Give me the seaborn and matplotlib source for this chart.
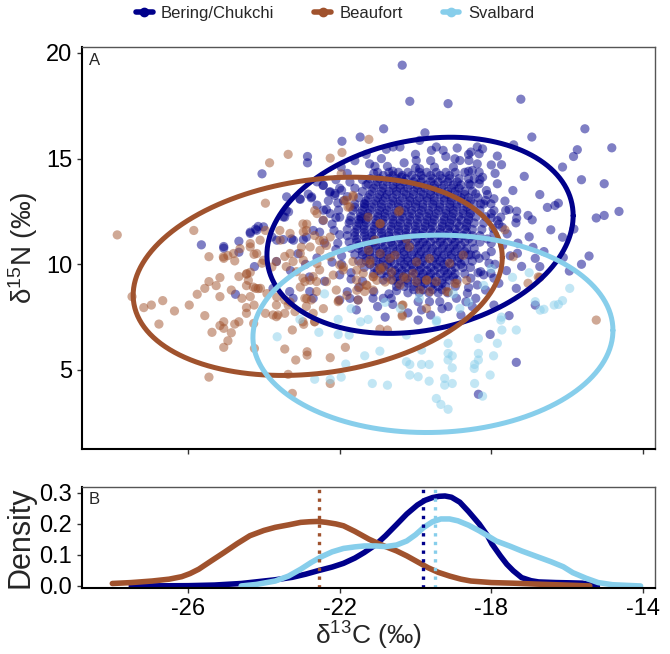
import numpy as np
import pandas as pd
import matplotlib
matplotlib.use("Agg")
import matplotlib.pyplot as plt
import seaborn as sns
from matplotlib.lines import Line2D

groups = ["Bering/Chukchi", "Beaufort", "Svalbard"]
colors = {"Bering/Chukchi": "#00008B", "Beaufort": "#A0522D", "Svalbard": "#87CEEB"}

# scattered Bering/Chukchi points (d13C, d15N)
bering_pts = [
    (-24.05, 14.28), (-25.65, 10.92), (-25.06, 10.84), (-24.66, 11.09), (-24.36, 11.52), (-24.22, 11.67),
    (-24.15, 11.79), (-20.35, 19.42), (-20.15, 17.71), (-19.14, 17.60), (-20.84, 16.41), (-21.46, 16.02),
    (-21.94, 15.82), (-19.75, 16.22), (-22.85, 15.10), (-22.85, 14.80), (-21.96, 14.60), (-21.21, 14.75),
    (-21.07, 14.63), (-20.74, 14.63), (-20.77, 15.44), (-20.59, 15.55), (-20.41, 15.55), (-17.22, 17.81),
    (-15.53, 16.41), (-16.93, 16.02), (-14.82, 15.51), (-17.41, 15.65), (-15.73, 15.42), (-15.83, 15.10),
    (-17.84, 15.12), (-17.73, 14.71), (-16.12, 14.60), (-17.13, 14.16), (-15.62, 14.00), (-15.02, 13.81),
    (-17.84, 13.81), (-17.43, 13.49), (-16.72, 13.30), (-16.23, 12.89), (-16.32, 12.78), (-16.52, 12.69),
    (-17.03, 12.31), (-16.92, 12.10), (-14.63, 12.50), (-15.02, 12.31), (-15.23, 12.19), (-16.43, 11.63),
    (-16.12, 11.28), (-15.82, 11.67), (-17.64, 12.99), (-17.62, 12.55), (-17.53, 12.59), (-17.33, 12.51),
    (-17.33, 12.18), (-17.35, 11.96), (-18.13, 13.49), (-17.93, 13.10), (-18.15, 13.02), (-24.75, 8.58),
    (-24.25, 9.89), (-25.06, 10.76), (-24.66, 10.57), (-16.84, 10.28), (-16.72, 9.89), (-16.61, 10.60),
    (-15.42, 10.39), (-15.62, 10.00), (-15.94, 9.68), (-16.10, 10.32), (-16.84, 8.07), (-17.34, 8.86),
    (-17.93, 8.07), (-17.53, 7.57), (-18.03, 6.68), (-17.34, 5.36), (-18.34, 3.85),
    (-23.40, 13.19), (-23.49, 12.24), (-23.35, 12.48), (-23.04, 13.07), (-22.83, 13.32), (-22.74, 13.19),
    (-22.43, 13.74), (-22.25, 13.43), (-22.12, 13.35), (-22.43, 12.56), (-22.25, 12.40), (-22.03, 12.56),
    (-24.36, 11.46), (-24.19, 11.61), (-24.01, 11.77), (-23.66, 11.14), (-23.79, 11.29), (-23.49, 11.17),
    (-23.22, 11.14), (-22.96, 11.17), (-23.05, 13.10), (-22.75, 13.14), (-23.45, 12.23), (-23.41, 12.54),
    (-22.35, 12.59), (-22.44, 12.07), (-22.00, 12.23), (-21.73, 12.07), (-21.43, 12.15), (-21.60, 12.70),
    (-21.34, 12.86), (-23.27, 11.20), (-22.88, 11.28), (-22.53, 11.52), (-22.27, 13.41), (-22.13, 13.26),
    (-22.44, 13.73), (-21.73, 13.89), (-21.25, 13.81), (-20.37, 14.12), (-19.98, 14.91), (-19.89, 14.52),
    (-19.58, 15.39), (-19.45, 15.55), (-19.27, 15.39), (-18.96, 14.99), (-18.83, 14.91), (-19.89, 15.86),
    (-18.37, 15.55), (-18.23, 15.46), (-18.54, 15.31), (-18.32, 15.23), (-18.59, 14.91), (-18.37, 14.75),
    (-18.50, 14.44), (-18.32, 14.36), (-18.45, 14.04), (-18.23, 14.12), (-18.59, 13.81), (-18.32, 13.81),
    (-18.41, 13.33), (-18.28, 12.86), (-18.01, 12.86), (-17.93, 12.54), (-17.75, 12.23), (-17.84, 12.07),
    (-17.71, 11.75), (-17.58, 11.44), (-17.93, 11.44), (-18.54, 10.44), (-18.32, 10.28), (-18.06, 10.05),
    (-18.01, 9.57), (-18.28, 9.65), (-18.54, 9.34), (-18.37, 9.02), (-18.15, 8.78), (-18.63, 8.63),
    (-18.41, 8.39), (-18.67, 8.23), (-17.93, 9.34), (-17.31, 10.52), (-21.56, 7.84), (-21.12, 8.39),
    (-20.85, 8.39), (-20.64, 8.39), (-19.93, 8.23), (-19.93, 7.36), (-19.84, 7.84), (-19.63, 8.23),
    (-19.36, 8.23), (-19.14, 8.00), (-18.92, 8.39), (-22.00, 8.31), (-21.73, 8.39), (-21.52, 8.31),
    (-22.79, 8.71), (-22.70, 8.39), (-23.23, 8.39), (-23.32, 8.71), (-23.76, 8.86), (-23.67, 10.13),
    (-21.6, 14.9), (-21.3, 15.2), (-20.9, 15.0), (-20.3, 14.8), (-20.0, 15.2), (-19.6, 14.9), (-19.2, 15.1),
    (-18.9, 15.5), (-18.6, 15.2), (-18.0, 14.7), (-17.9, 14.3), (-21.8, 14.3), (-22.1, 14.0),
    (-22.6, 13.9), (-22.3, 13.0), (-22.0, 13.6), (-21.9, 13.0), (-22.6, 12.8), (-22.2, 11.9), (-22.0, 11.4),
    (-22.7, 11.6), (-22.4, 11.0), (-22.1, 10.7), (-22.6, 10.3), (-22.2, 10.1), (-21.95, 10.4), (-22.9, 10.0),
    (-23.1, 10.5), (-23.3, 9.7), (-22.8, 9.4), (-22.4, 9.2), (-22.0, 9.5), (-21.7, 9.3), (-21.5, 8.9),
    (-21.8, 8.7), (-18.0, 12.4), (-17.8, 11.9), (-18.1, 11.2), (-17.7, 10.9), (-18.0, 10.6), (-17.5, 10.4),
    (-17.9, 10.0), (-17.6, 9.7), (-17.2, 9.9), (-17.3, 11.0), (-17.0, 11.3), (-16.9, 10.8), (-18.2, 9.5),
    (-17.8, 9.1), (-21.0, 8.0), (-20.6, 8.1), (-20.2, 7.7), (-19.6, 7.6), (-19.3, 7.9), (-18.8, 7.6),
    (-18.5, 8.0), (-20.8, 7.5),
    (-21.95, 13.5), (-22.05, 12.9), (-22.1, 12.2), (-22.15, 11.6), (-22.05, 11.0), (-21.95, 10.0),
    (-21.7, 9.6), (-21.4, 9.2), (-21.1, 8.7), (-20.7, 8.6), (-20.5, 8.75), (-18.6, 8.9), (-18.35, 9.6),
    (-18.15, 10.4), (-18.0, 11.0), (-17.95, 11.7), (-18.0, 12.2), (-18.1, 13.3), (-18.3, 14.0),
    (-18.6, 14.4), (-19.0, 14.6), (-19.5, 14.6), (-20.0, 14.55), (-20.6, 14.4), (-21.1, 14.3),
    (-21.4, 14.0), (-21.6, 13.6), (-21.8, 13.2),
]

# dense Bering/Chukchi core, one row of d13C values per d15N level
bering_core = [
    (14.35, [-21.0, -20.7, -20.45, -20.2, -19.9, -19.7, -19.45, -19.2, -18.95, -18.7]),
    (14.2, [-20.85, -20.6, -20.35, -20.1, -19.85, -19.6, -19.35, -19.1]),
    (14.05, [-21.2, -20.95, -20.7, -20.5, -20.25, -20.0, -19.8, -19.55, -19.3, -19.1, -18.85, -18.6]),
    (13.9, [-21.0, -20.75, -20.5, -20.3, -20.05, -19.85, -19.6, -19.4, -19.15, -18.9]),
    (13.75, [-21.3, -21.05, -20.85, -20.6, -20.4, -20.15, -19.95, -19.7, -19.5, -19.25, -19.0, -18.8, -18.55]),
    (13.6, [-21.1, -20.85, -20.6, -20.4, -20.2, -19.95, -19.75, -19.5, -19.3, -19.05, -18.85]),
    (13.45, [-21.4, -21.15, -20.9, -20.7, -20.5, -20.3, -20.05, -19.85, -19.6, -19.4, -19.15, -18.95, -18.7, -18.5]),
    (13.3, [-21.2, -20.95, -20.75, -20.5, -20.25, -20.05, -19.8, -19.6, -19.35, -19.15, -18.9, -18.7]),
    (13.15, [-21.5, -21.25, -21.0, -20.8, -20.6, -20.35, -20.15, -19.9, -19.7, -19.5, -19.25, -19.05, -18.8, -18.6, -18.35]),
    (13.0, [-21.3, -21.05, -20.85, -20.6, -20.4, -20.15, -19.95, -19.7, -19.5, -19.25, -19.05, -18.8, -18.55]),
    (12.85, [-21.6, -21.35, -21.1, -20.9, -20.65, -20.45, -20.2, -20.0, -19.8, -19.55, -19.35, -19.1, -18.9, -18.65, -18.45, -18.2]),
    (12.7, [-21.35, -21.15, -20.9, -20.7, -20.45, -20.25, -20.0, -19.8, -19.55, -19.35, -19.1, -18.9, -18.65]),
    (12.55, [-21.65, -21.4, -21.2, -20.95, -20.75, -20.5, -20.3, -20.1, -19.85, -19.65, -19.4, -19.2, -19.0, -18.75, -18.55, -18.3]),
    (12.4, [-21.45, -21.25, -21.0, -20.8, -20.55, -20.35, -20.1, -19.9, -19.65, -19.45, -19.2, -19.0, -18.75, -18.55]),
    (12.25, [-21.7, -21.45, -21.25, -21.0, -20.8, -20.6, -20.35, -20.15, -19.9, -19.7, -19.5, -19.25, -19.05, -18.85, -18.6, -18.4, -18.15]),
    (12.1, [-21.5, -21.3, -21.05, -20.85, -20.6, -20.4, -20.15, -19.95, -19.7, -19.5, -19.25, -19.05, -18.8, -18.6]),
    (11.95, [-21.75, -21.5, -21.3, -21.05, -20.85, -20.6, -20.4, -20.2, -19.95, -19.75, -19.55, -19.3, -19.1, -18.9, -18.65, -18.45, -18.2]),
    (11.8, [-21.55, -21.35, -21.1, -20.9, -20.65, -20.45, -20.2, -20.0, -19.75, -19.55, -19.3, -19.1, -18.85, -18.65]),
    (11.65, [-21.8, -21.55, -21.35, -21.1, -20.9, -20.65, -20.45, -20.25, -20.0, -19.8, -19.6, -19.35, -19.15, -18.95, -18.7, -18.5, -18.25]),
    (11.5, [-21.6, -21.35, -21.15, -20.9, -20.7, -20.45, -20.25, -20.0, -19.8, -19.55, -19.35, -19.1, -18.9, -18.65]),
    (11.35, [-21.8, -21.6, -21.35, -21.15, -20.9, -20.7, -20.5, -20.25, -20.05, -19.85, -19.6, -19.4, -19.2, -18.95, -18.75, -18.5, -18.3]),
    (11.2, [-21.55, -21.3, -21.1, -20.85, -20.65, -20.4, -20.2, -19.95, -19.75, -19.5, -19.3, -19.05, -18.85, -18.6]),
    (11.05, [-21.75, -21.55, -21.3, -21.1, -20.9, -20.65, -20.45, -20.25, -20.0, -19.8, -19.6, -19.35, -19.15, -18.95, -18.7, -18.5, -18.3]),
    (10.9, [-21.5, -21.25, -21.05, -20.8, -20.6, -20.35, -20.15, -19.9, -19.7, -19.45, -19.25, -19.0, -18.8]),
    (10.75, [-21.7, -21.5, -21.25, -21.05, -20.85, -20.6, -20.4, -20.2, -19.95, -19.75, -19.55, -19.3, -19.1, -18.9, -18.65, -18.45]),
    (10.6, [-21.4, -21.2, -20.95, -20.75, -20.5, -20.3, -20.05, -19.85, -19.6, -19.4, -19.15, -18.95, -18.7]),
    (10.45, [-21.6, -21.4, -21.2, -20.95, -20.75, -20.55, -20.3, -20.1, -19.9, -19.7, -19.45, -19.25, -19.05, -18.8, -18.6, -18.4]),
    (10.3, [-21.3, -21.1, -20.85, -20.65, -20.4, -20.2, -19.95, -19.75, -19.5, -19.3, -19.05, -18.85]),
    (10.15, [-21.5, -21.3, -21.05, -20.85, -20.65, -20.4, -20.2, -20.0, -19.8, -19.55, -19.35, -19.15, -18.9, -18.7, -18.5]),
    (10.0, [-21.2, -20.95, -20.75, -20.55, -20.3, -20.1, -19.9, -19.7, -19.45, -19.25, -19.05, -18.8]),
    (9.85, [-21.35, -21.1, -20.9, -20.7, -20.45, -20.25, -20.05, -19.85, -19.6, -19.4, -19.2, -18.95, -18.75, -18.55]),
    (9.7, [-21.0, -20.8, -20.55, -20.35, -20.1, -19.9, -19.7, -19.5, -19.25, -19.05]),
    (9.55, [-21.1, -20.9, -20.65, -20.45, -20.25, -20.0, -19.8, -19.6, -19.35, -19.15, -18.95, -18.7]),
    (9.4, [-20.75, -20.5, -20.3, -20.1, -19.85, -19.65, -19.45, -19.2, -19.0]),
    (9.25, [-20.85, -20.6, -20.4, -20.2, -19.95, -19.75, -19.55, -19.3, -19.1, -18.9]),
    (9.1, [-20.45, -20.2, -19.95, -19.75, -19.5, -19.3]),
    (8.95, [-20.5, -20.3, -20.05, -19.85, -19.6, -19.4, -19.2, -18.95]),
    (8.8, [-20.05, -19.8, -19.55, -19.3]),
    (8.65, [-20.2, -19.9, -19.65, -19.4, -19.15]),
]

beaufort_pts = [
    (-23.85, 14.80), (-23.96, 12.89), (-27.87, 11.39), (-25.85, 11.60), (-23.96, 11.60), (-21.23, 15.91),
    (-23.36, 15.20), (-22.25, 15.02), (-21.94, 15.29), (-21.96, 14.28), (-17.64, 11.63), (-25.45, 10.36),
    (-27.48, 8.47), (-27.17, 7.95), (-26.97, 8.07), (-26.67, 8.28), (-26.36, 7.79), (-26.77, 7.17),
    (-25.97, 8.07), (-25.76, 8.58), (-25.56, 8.86), (-25.45, 9.18), (-25.26, 8.99), (-25.16, 9.37),
    (-25.56, 7.57), (-25.16, 8.47), (-25.37, 6.78), (-25.16, 7.10), (-25.06, 7.28), (-25.06, 6.97),
    (-24.86, 6.76), (-24.95, 6.38), (-25.06, 6.07), (-25.45, 4.66), (-24.77, 7.17), (-24.66, 7.28),
    (-24.86, 8.78), (-24.58, 8.39), (-24.36, 8.47), (-24.46, 7.95), (-24.46, 7.68), (-24.26, 8.07),
    (-24.66, 9.42), (-24.46, 9.53), (-24.36, 9.62), (-24.46, 8.99), (-25.06, 10.28), (-24.95, 10.41),
    (-24.77, 10.16), (-24.26, 10.47), (-24.05, 10.05), (-24.22, 8.86), (-24.09, 8.86), (-23.96, 7.68),
    (-24.27, 7.20), (-24.25, 6.02), (-23.45, 5.99), (-23.16, 5.47), (-22.86, 5.70), (-22.86, 5.86),
    (-22.25, 5.58), (-21.85, 6.07), (-22.25, 4.36), (-23.25, 3.89), (-23.36, 4.79), (-23.25, 6.89),
    (-20.94, 6.93), (-20.74, 6.89), (-20.35, 7.60), (-23.76, 7.60), (-23.45, 7.68), (-23.67, 7.52),
    (-22.95, 7.16), (-22.66, 7.28), (-17.03, 9.10), (-16.72, 9.38), (-17.42, 10.36), (-15.23, 7.36),
    (-22.87, 11.90), (-22.96, 11.53), (-23.31, 11.46), (-23.57, 11.14), (-22.60, 12.40), (-22.43, 12.09),
    (-22.43, 11.14), (-22.25, 11.29), (-22.78, 10.82), (-22.52, 10.66), (-23.04, 10.51), (-21.82, 13.03),
    (-21.73, 12.72), (-21.64, 13.19), (-21.24, 10.66), (-21.07, 11.14), (-20.93, 10.51), (-25.07, 10.35),
    (-24.80, 10.51), (-24.63, 10.74), (-24.36, 10.82), (-24.10, 11.14), (-22.66, 12.54), (-21.87, 13.02),
    (-21.65, 13.26), (-21.78, 12.70), (-22.97, 11.91), (-22.88, 11.60), (-22.66, 11.36), (-23.58, 11.60),
    (-23.01, 10.81), (-22.35, 10.89), (-22.53, 11.12), (-20.42, 12.54), (-21.25, 12.23), (-20.94, 11.91),
    (-20.24, 11.20), (-20.45, 12.48), (-20.93, 11.93), (-20.16, 10.82), (-20.93, 9.72), (-20.63, 9.64),
    (-20.54, 10.43), (-20.32, 9.40), (-19.97, 10.11), (-19.70, 9.24), (-19.63, 10.27), (-19.88, 8.77),
    (-18.74, 10.43), (-19.13, 8.69), (-18.91, 9.09), (-18.65, 9.24), (-20.35, 8.06), (-20.35, 7.54),
    (-21.20, 10.03), (-21.11, 9.40), (-20.80, 9.16), (-16.76, 9.40),
    (-23.67, 10.13), (-23.45, 10.37), (-23.23, 10.13), (-23.41, 9.89), (-23.14, 9.65), (-22.97, 9.34),
    (-22.92, 9.18), (-22.70, 9.42), (-22.53, 9.73), (-22.61, 9.18), (-22.35, 9.18), (-22.17, 9.49),
    (-22.00, 9.97), (-21.91, 9.73), (-21.65, 10.13), (-21.43, 10.05), (-21.38, 9.57), (-21.56, 9.26),
    (-21.30, 9.02), (-21.12, 9.42), (-21.12, 8.78), (-20.94, 9.81), (-20.68, 10.28), (-20.64, 9.26),
    (-20.41, 9.02), (-20.24, 9.34), (-20.06, 9.57), (-19.98, 9.18), (-19.71, 9.26), (-19.62, 8.71),
    (-19.45, 9.18), (-19.18, 8.71), (-22.61, 8.71), (-22.92, 8.39), (-22.75, 8.31), (-22.04, 8.23),
    (-22.09, 8.78), (-23.67, 8.07), (-23.45, 8.31), (-23.63, 7.60), (-23.36, 8.07), (-23.18, 7.76),
    (-22.88, 8.00), (-22.70, 7.68), (-22.97, 7.28), (-22.66, 7.28), (-21.47, 8.94), (-21.34, 8.71),
    (-21.51, 8.31), (-20.33, 8.07), (-19.71, 7.91), (-18.96, 9.10), (-19.10, 10.05),
    (-24.36, 10.98), (-24.19, 10.51), (-24.01, 10.19), (-23.79, 9.87), (-24.45, 9.56), (-24.41, 9.24),
    (-24.28, 8.92), (-24.15, 8.85), (-23.92, 8.61), (-23.66, 8.45), (-23.31, 8.21), (-22.87, 8.37),
    (-22.43, 7.90), (-22.03, 8.29), (-21.81, 8.53), (-21.55, 8.77), (-21.28, 9.00), (-21.02, 9.24),
    (-23.04, 8.92), (-22.78, 9.24), (-23.31, 10.51), (-22.96, 10.19), (-22.60, 10.03), (-22.25, 10.35),
    (-21.90, 9.87), (-21.55, 9.72), (-21.20, 10.19), (-20.85, 9.87),
]

svalbard_pts = [
    (-23.65, 6.57), (-23.05, 7.39), (-22.55, 6.78), (-22.04, 7.39), (-22.04, 6.68), (-21.75, 6.65),
    (-21.45, 7.28), (-21.25, 7.39), (-21.34, 5.67), (-21.84, 5.28), (-22.66, 4.56), (-21.96, 4.66),
    (-22.25, 4.55), (-21.14, 4.36), (-20.74, 4.28), (-20.94, 5.89), (-20.24, 6.65), (-19.84, 5.94),
    (-20.24, 5.39), (-20.15, 5.26), (-19.84, 5.26), (-19.64, 5.26), (-20.15, 4.76), (-19.93, 4.68),
    (-19.64, 4.47), (-19.45, 7.28), (-19.14, 6.26), (-19.14, 5.78), (-19.03, 5.67), (-19.14, 5.47),
    (-19.03, 5.10), (-19.23, 4.60), (-19.03, 4.36), (-19.23, 4.28), (-19.45, 3.65), (-19.33, 3.37),
    (-19.14, 3.14), (-18.83, 7.91), (-17.44, 9.38), (-15.93, 8.86), (-16.12, 8.28), (-16.23, 8.10),
    (-16.34, 8.07), (-16.61, 7.87), (-16.71, 7.83), (-16.84, 8.23), (-17.75, 7.36), (-17.72, 6.89),
    (-17.34, 6.89), (-18.34, 6.49), (-17.84, 6.26), (-18.34, 5.78), (-18.34, 5.47), (-17.94, 5.67),
    (-18.44, 5.26), (-18.45, 5.07), (-18.03, 4.76), (-18.44, 4.36), (-18.23, 3.76), (-17.73, 7.50),
    (-19.44, 7.35), (-20.4, 7.9), (-19.9, 8.4), (-19.0, 8.6), (-18.6, 8.2), (-18.2, 9.0), (-20.8, 8.2),
    (-21.7, 7.9), (-22.4, 8.6), (-18.0, 9.8), (-17.0, 9.6),
]

# 95% ellipses: centre d13C, centre d15N, half width, half height, correlation
ellipses = {
    "Bering/Chukchi": (-19.88, 11.37, 4.04, 4.64, 0.20),
    "Beaufort": (-22.58, 9.43, 4.87, 4.69, 0.19),
    "Svalbard": (-19.54, 6.71, 4.75, 4.67, 0.035),
}

# d13C density curves
bering_dx = [-27.5, -26.0, -25.3, -24.6, -24.15, -23.7, -23.25, -22.9, -22.58, -22.2, -21.9, -21.6, -21.35,
             -21.05, -20.79, -20.5, -20.23, -19.95, -19.75, -19.55, -19.38, -19.22, -19.05, -18.83, -18.6,
             -18.32, -18.1, -17.98, -17.76, -17.59, -17.42, -17.2, -16.95, -16.75, -16.3, -15.9, -15.6, -15.4, -15.2]
bering_dy = [0.0, 0.001, 0.003, 0.008, 0.014, 0.02, 0.028, 0.038, 0.049, 0.061, 0.073, 0.09, 0.108,
             0.133, 0.162, 0.198, 0.232, 0.261, 0.276, 0.285, 0.289, 0.29, 0.286, 0.27, 0.24,
             0.2, 0.162, 0.135, 0.097, 0.07, 0.049, 0.027, 0.017, 0.013, 0.011, 0.01, 0.009, 0.005, 0.0]
beaufort_dx = [-28.0, -27.5, -26.95, -26.5, -26.17, -25.95, -25.72, -25.4, -25.05, -24.7, -24.37, -24.0, -23.7,
               -23.35, -23.03, -22.8, -22.58, -22.35, -22.1, -21.9, -21.6, -21.23, -21.0, -20.79, -20.5,
               -20.23, -19.95, -19.67, -19.4, -19.1, -18.8, -18.54, -18.0, -17.42, -16.8, -16.3, -15.8, -15.4]
beaufort_dy = [0.008, 0.011, 0.016, 0.022, 0.030, 0.040, 0.054, 0.080, 0.108, 0.137, 0.162, 0.179, 0.189,
               0.197, 0.205, 0.207, 0.208, 0.205, 0.2, 0.194, 0.176, 0.151, 0.138, 0.127, 0.113,
               0.097, 0.078, 0.059, 0.044, 0.032, 0.022, 0.016, 0.011, 0.009, 0.006, 0.004, 0.002, 0.0]
svalbard_dx = [-24.6, -24.2, -23.7, -23.35, -23.03, -22.75, -22.47, -22.2, -21.9, -21.6, -21.35, -21.05,
               -20.79, -20.5, -20.23, -20.0, -19.78, -19.55, -19.33, -19.1, -18.88, -18.6, -18.32, -18.1,
               -17.87, -17.5, -17.2, -16.8, -16.42, -16.1, -15.85, -15.5, -15.18, -14.8, -14.06]
svalbard_dy = [0.0, 0.005, 0.016, 0.032, 0.054, 0.076, 0.095, 0.110, 0.121, 0.126, 0.129, 0.129,
               0.127, 0.132, 0.145, 0.165, 0.189, 0.207, 0.216, 0.216, 0.21, 0.196, 0.178, 0.162,
               0.145, 0.128, 0.113, 0.095, 0.078, 0.062, 0.043, 0.025, 0.011, 0.004, 0.0]

mean_d13c = {"Bering/Chukchi": -19.80, "Beaufort": -22.55, "Svalbard": -19.48}

# ---- build tables
core_pts = [(x, y) for y, xs in bering_core for x in xs]
rows = []
for name, pts in [("Bering/Chukchi", core_pts + bering_pts), ("Beaufort", beaufort_pts), ("Svalbard", svalbard_pts)]:
    for x, y in pts:
        rows.append((name, x, y))
iso = pd.DataFrame(rows, columns=["region", "d13C", "d15N"])

dens = pd.concat([
    pd.DataFrame({"region": "Bering/Chukchi", "d13C": bering_dx, "density": bering_dy}),
    pd.DataFrame({"region": "Beaufort", "d13C": beaufort_dx, "density": beaufort_dy}),
    pd.DataFrame({"region": "Svalbard", "d13C": svalbard_dx, "density": svalbard_dy}),
])

# ---- style
sns.set_style("ticks")
plt.rcParams["font.family"] = ["Liberation Sans", "DejaVu Sans"]
plt.rcParams["mathtext.fontset"] = "custom"
plt.rcParams["mathtext.rm"] = "Liberation Sans"
plt.rcParams["mathtext.it"] = "Liberation Sans"
plt.rcParams["mathtext.default"] = "regular"

fig = plt.figure(figsize=(6.7, 6.54), dpi=100)
ax1 = fig.add_axes([82 / 670, 1 - 449 / 654, 573 / 670, 402 / 654])
ax2 = fig.add_axes([82 / 670, 1 - 588 / 654, 573 / 670, 101 / 654])

sns.scatterplot(data=iso, x="d13C", y="d15N", hue="region", hue_order=groups, palette=colors,
                s=44, alpha=0.5, linewidth=0, legend=False, ax=ax1)

t = np.linspace(0, 2 * np.pi, 300)
for name in groups:
    cx, cy, hx, hy, rho = ellipses[name]
    ex = cx + hx * np.cos(t)
    ey = cy + hy * (rho * np.cos(t) + np.sqrt(1 - rho ** 2) * np.sin(t))
    ax1.plot(ex, ey, color=colors[name], lw=3.6, solid_capstyle="round")

sns.lineplot(data=dens, x="d13C", y="density", hue="region", hue_order=groups, palette=colors,
             lw=4, legend=False, ax=ax2)
for name in groups:
    ax2.axvline(mean_d13c[name], color=colors[name], ls=(0, (1, 1.6)), lw=2.4)

xlim = (-28.8, -13.68)
for ax in (ax1, ax2):
    ax.set_xlim(xlim)
    ax.set_xticks([-26, -22, -18, -14])
    for side in ["top", "right"]:
        ax.spines[side].set_visible(True)
        ax.spines[side].set_color("#555555")
        ax.spines[side].set_linewidth(1.0)
    for side in ["bottom", "left"]:
        ax.spines[side].set_color("black")
        ax.spines[side].set_linewidth(1.5)
    ax.tick_params(direction="out", length=3.5, width=1, color="#333333", labelsize=17, labelcolor="black")

ax1.set_ylim(1.26, 20.28)
ax1.set_yticks([5, 10, 15, 20])
ax1.set_xticklabels([])
ax1.set_xlabel("")
ax1.set_ylabel("δ$^{15}$N (‰)", fontsize=20, labelpad=4)
ax1.text(0.012, 0.985, "A", transform=ax1.transAxes, ha="left", va="top", fontsize=12)

ax2.set_ylim(-0.0065, 0.319)
ax2.set_yticks([0.0, 0.1, 0.2, 0.3])
ax2.set_yticklabels(["0.0", "0.1", "0.2", "0.3"])
ax2.set_xticklabels(["-26", "-22", "-18", "-14"])
ax2.set_xlabel("δ$^{13}$C (‰)", fontsize=19, labelpad=0)
ax2.set_ylabel("Density", fontsize=22, labelpad=3)
ax2.text(0.012, 0.95, "B", transform=ax2.transAxes, ha="left", va="top", fontsize=12)

handles = [Line2D([0], [0], color=colors[g], lw=4, marker="o", markersize=6) for g in groups]
fig.legend(handles, groups, loc="upper center", bbox_to_anchor=(0.5, 1.014), ncol=3, frameon=False,
           fontsize=12, handlelength=1.0, handletextpad=0.5, columnspacing=2.4)

fig.savefig("out.png", dpi=100)
